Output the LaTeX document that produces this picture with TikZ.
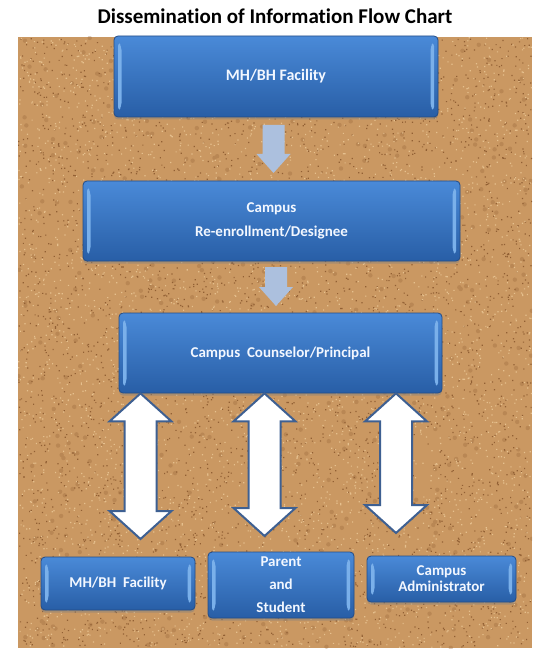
\documentclass[tikz,border=0pt]{standalone}
\usepackage{fontspec}
\setmainfont{Carlito}[Ligatures=NoCommon]
\usepackage{tikz}
\usetikzlibrary{calc,shadows}

\definecolor{cork}{RGB}{202,152,98}
\definecolor{corkdark}{RGB}{146,96,52}
\definecolor{corklight}{RGB}{230,192,142}
\definecolor{boxtop}{RGB}{74,138,216}
\definecolor{boxbottom}{RGB}{40,94,166}
\definecolor{boxline}{RGB}{36,76,134}
\definecolor{bevel}{RGB}{122,176,234}
\definecolor{flowblue}{RGB}{172,192,222}
\definecolor{twowayline}{RGB}{62,96,146}
\definecolor{boxtext}{RGB}{242,247,255}

\tikzset{
  stepbox/.style={draw=boxline, line width=0.8pt, rounded corners=4pt,
    top color=boxtop, bottom color=boxbottom, text=boxtext, align=center,
    inner sep=0pt, font=\bfseries\fontsize{15}{24}\selectfont,
    drop shadow={opacity=0.45, shadow xshift=0pt, shadow yshift=-2.5pt},
    path picture={
      \fill[bevel] ([xshift=4pt,yshift=-6pt]path picture bounding box.north west)
        -- ++(3.5pt,-4pt) -- ([xshift=7.5pt,yshift=10pt]path picture bounding box.south west)
        -- ++(-3.5pt,-4pt) -- cycle;
      \fill[bevel] ([xshift=-4pt,yshift=-6pt]path picture bounding box.north east)
        -- ++(-3.5pt,-4pt) -- ([xshift=-7.5pt,yshift=10pt]path picture bounding box.south east)
        -- ++(3.5pt,-4pt) -- cycle;}},
  smallbox/.style={stepbox, font=\bfseries\fontsize{15}{16}\selectfont},
  twoway/.style={fill=white, draw=twowayline, line width=2pt, line join=miter},
}

% block arrows between two points
\newcommand{\onewayarrow}[2]{%
  \fill[flowblue] let \p1=(#1), \p2=(#2) in
    (\x1-11pt,\y1) -- (\x1+11pt,\y1) -- (\x1+11pt,\y2+19pt) -- (\x1+17pt,\y2+19pt)
    -- (\x2,\y2) -- (\x1-17pt,\y2+19pt) -- (\x1-11pt,\y2+19pt) -- cycle;}
\newcommand{\twowayarrow}[2]{%
  \filldraw[twoway] let \p1=(#1), \p2=(#2) in
    (\x1,\y1) -- (\x1+31pt,\y1-28pt) -- (\x1+16pt,\y1-28pt) -- (\x1+16pt,\y2+28pt)
    -- (\x1+31pt,\y2+28pt) -- (\x2,\y2) -- (\x1-31pt,\y2+28pt) -- (\x1-16pt,\y2+28pt)
    -- (\x1-16pt,\y1-28pt) -- (\x1-31pt,\y1-28pt) -- cycle;}

\begin{document}
\begin{tikzpicture}[x=1pt, y=-1pt]
    \useasboundingbox (0,0) rectangle (551,668);
    \node (title) at (275,16) {\bfseries\fontsize{21}{24}\selectfont Dissemination of Information Flow Chart};

    % cork board
    \fill[cork] (18,37) rectangle (532,648);
    \pgfmathsetseed{42}
    \begin{scope}
      \clip (18,37) rectangle (532,648);
      \fill[corkdark, opacity=0.3] \foreach \i in {1,...,500} {({18+514*rnd},{37+611*rnd}) circle (2.2)};
      \fill[corkdark] \foreach \i in {1,...,4000} {({18+513*rnd},{37+610*rnd}) rectangle ++(1.2,1.2)};
      \fill[corklight] \foreach \i in {1,...,4000} {({18+513*rnd},{37+610*rnd}) rectangle ++(1.2,1.2)};
    \end{scope}

    \node[stepbox, minimum width=324pt, minimum height=81pt, font=\bfseries\fontsize{16}{24}\selectfont] (fac) at (276,76.5) {MH/BH Facility};
    \node[stepbox, minimum width=377pt, minimum height=80pt] (reen) at (271.5,221) {Campus\\Re-enrollment/Designee};
    \node[stepbox, minimum width=323pt, minimum height=80pt] (coun) at (280.5,353) {Campus\ \ Counselor/Principal};
    \node[smallbox, minimum width=154pt, minimum height=53pt] (fac2) at (118,583.5) {MH/BH\ \ Facility};
    \node[smallbox, minimum width=146pt, minimum height=66pt, font=\bfseries\fontsize{15}{23}\selectfont] (par) at (281,585) {Parent\\and\\Student};
    \node[smallbox, minimum width=149pt, minimum height=46pt] (adm) at (441.5,579) {Campus\\Administrator};

    \coordinate (f1) at (273.5,173);
    \coordinate (f2) at (276,306);
    \onewayarrow{273.5,125}{f1}
    \onewayarrow{276,267}{f2}

    \coordinate (h1) at (140.5,539);
    \coordinate (h2) at (264.5,536);
    \coordinate (h3) at (396,533);
    \twowayarrow{coun.south -| h1}{h1}
    \twowayarrow{coun.south -| h2}{h2}
    \twowayarrow{coun.south -| h3}{h3}
\end{tikzpicture}
\end{document}
